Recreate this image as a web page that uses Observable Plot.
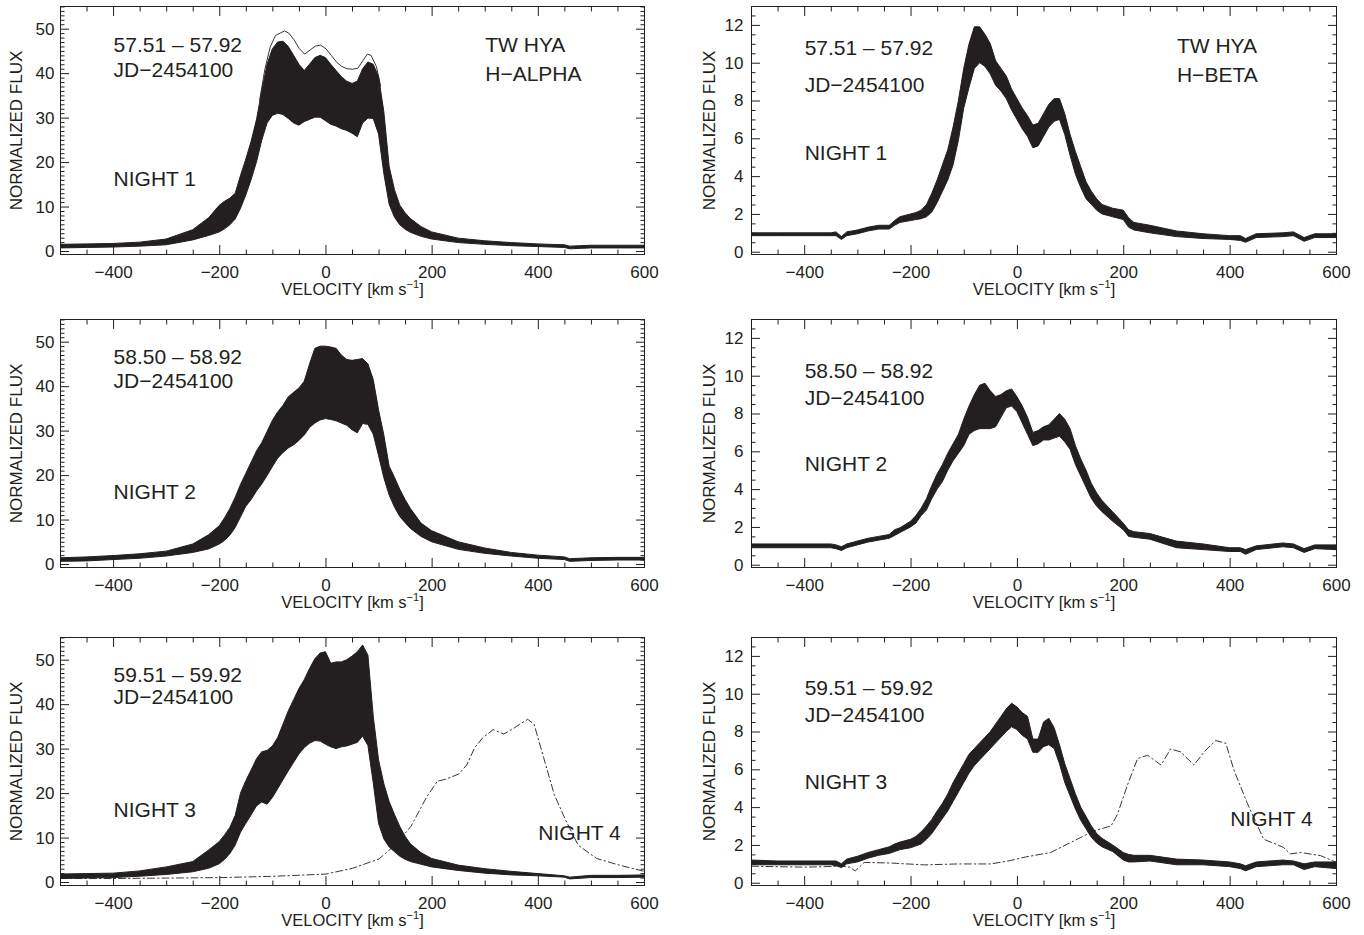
<!DOCTYPE html>
<html><head><meta charset="utf-8">
<script src="https://cdn.jsdelivr.net/npm/d3@7"></script>
<script src="https://cdn.jsdelivr.net/npm/@observablehq/plot@0.6"></script>
<style>
html,body{margin:0;padding:0;background:#fff;overflow:hidden;}
#wrap{position:relative;width:1364px;height:935px;background:#fff;}
.panel{position:absolute;}
</style></head><body><div id="wrap"></div>
<script>
// ---------------- DATA ----------------
// H-alpha velocity grid (km/s)
const velHa = [-500,-450,-400,-350,-300,-250,-220,-200,-190,-180,-170,-160,-150,-140,-130,-120,-110,-100,-90,-80,-70,-60,-50,-40,-30,-20,-10,0,10,20,30,40,50,60,70,80,90,100,110,120,130,140,150,160,180,200,250,300,350,400,450,460,500,550,600];
// Night 1 H-alpha: upper / lower edge of the bundle of spectra
const haN1Top = [1.5,1.6,1.7,2.0,2.7,4.8,7.5,10.3,11.2,11.9,13.0,17,20.7,24.7,29.5,36,42,45.5,47,47.2,46,44,42,40.6,42,43.5,44,43.5,42,40.6,39.2,38.2,37.7,38.2,41,42.5,42,39.2,31.3,19,13.8,10.3,8.6,7.3,5.5,4.3,2.9,2.3,1.9,1.6,1.4,1.1,1.3,1.3,1.3];
const haN1Bot = [0.7,0.8,0.9,1.1,1.4,2.5,3.5,4.3,5.0,5.9,7.2,9.6,12.6,16.1,20,24.9,28.8,30.5,31,30.7,29.8,28.8,28.3,29.1,29.6,30.1,30.1,29.3,28.5,28.1,27.5,27.1,26.5,25.7,28.8,29.9,29.8,26.3,17.4,10.5,7.6,5.9,4.9,4.2,3.3,2.7,1.9,1.5,1.2,1.0,0.8,0.5,0.7,0.7,0.7];
// Night 1 H-alpha: the single highest spectrum standing above the bundle
const haN1OutVel = [-125,-115,-105,-95,-85,-78,-70,-60,-50,-40,-30,-20,-10,0,10,20,30,40,50,60,70,78,85,95,103];
const haN1Out = [34,41,46,48.6,49.2,49.6,49.1,47.6,45.6,44.4,45.3,46.2,46.4,45.6,44.1,42.6,41.6,41.1,41,41.2,43,44.4,44.1,41.6,37.2];
// Night 2 H-alpha
const haN2Top = [1.4,1.6,1.9,2.3,2.9,4.5,6.6,8.6,10.4,12.5,15,17.9,20.4,22.9,25.4,27.3,29.8,32.3,34.2,35.7,37.6,38.6,39.6,41.1,45,48.5,49,49,48.8,48.5,47,46,45.8,46,46.2,45,41.5,34.7,29,22,19.5,16.8,14.5,12.5,9.2,7.5,5.0,3.6,2.6,2.0,1.6,1.2,1.4,1.5,1.5];
const haN2Bot = [0.6,0.7,1.0,1.3,1.8,2.6,3.4,4.5,5.3,6.5,8.2,10.6,13,14.5,16.4,18,19.9,21.9,23.8,25.1,26.1,26.8,27.8,29,30.7,31.7,32.4,32.7,32.5,32.2,31.7,31.2,30.2,29.5,31.6,31.4,29.2,24.4,19.4,15.5,12.8,10.7,9.3,8.0,6.2,5.0,3.3,2.4,1.8,1.3,1.0,0.6,0.8,0.9,0.9];
// Night 3 H-alpha
const haN3Top = [1.8,1.9,2.0,2.5,3.4,4.6,7.2,9.1,10.6,12.3,15,20,22.8,25.2,27.7,29.3,29.6,30.6,32.5,35.5,38.5,41,43.5,45.5,48,50.2,51.5,51.8,49.2,49.5,49.5,50,50.8,51.8,53.3,51,37.3,27.5,22.1,18.1,15.2,12.5,10.3,8.6,6.6,5.3,3.8,3.0,2.4,1.9,1.4,1.1,1.5,1.5,1.6];
const haN3Bot = [0.8,0.9,1.0,1.3,1.7,2.3,3.1,4.1,5.1,6.4,8.3,11.2,13.2,15.1,17.1,18.0,17.5,19.0,21.0,23.0,25,26.9,28.8,30.2,31.2,31.8,31.7,31,30.4,30,30.4,30.6,31,31.4,32.8,30.7,22.3,13.2,9.7,7.9,6.8,5.8,5.1,4.6,4.0,3.4,2.6,2.0,1.6,1.4,1.1,0.7,1.0,1.0,1.1];
// Night 4 H-alpha (dash-dot)
const haN4Vel = [-500,-400,-300,-200,-100,0,50,100,130,160,190,210,225,250,265,280,295,315,335,350,365,380,392,410,430,450,475,510,550,600];
const haN4 = [0.9,0.9,1.0,1.1,1.4,1.9,3.2,5.3,8.4,12.6,19.3,22.8,23.2,24.4,26.4,30.3,32.5,34.4,33.4,34.4,35.6,36.7,35.6,28.1,19.8,14.4,8.4,5.4,4.0,2.5];

// H-beta velocity grid (km/s)
const velHb = [-500,-450,-400,-350,-340,-330,-320,-300,-280,-260,-240,-230,-220,-200,-190,-180,-170,-160,-150,-140,-130,-120,-110,-100,-90,-80,-70,-60,-50,-40,-30,-20,-10,0,10,20,30,40,50,60,70,80,90,100,110,120,130,140,150,160,180,200,210,220,250,300,350,400,420,430,450,500,520,540,560,600];
const hbN1Top = [1.0,1.0,1.0,1.0,1.05,0.8,1.05,1.15,1.3,1.4,1.4,1.65,1.85,2.0,2.07,2.2,2.5,3.1,3.8,4.6,5.4,6.6,8.0,9.7,11.0,11.9,11.9,11.5,11.0,10.1,9.7,9.3,8.6,8.1,7.6,7.2,6.7,6.8,7.3,7.8,8.1,8.1,7.3,6.2,5.3,4.5,3.7,3.2,2.8,2.5,2.3,2.2,1.8,1.55,1.4,1.1,0.95,0.85,0.85,0.7,0.95,1.0,1.05,0.75,0.95,0.95];
const hbN1Bot = [0.85,0.85,0.85,0.85,0.85,0.65,0.85,0.95,1.1,1.2,1.2,1.4,1.55,1.65,1.7,1.75,1.85,2.1,2.6,3.2,3.8,4.6,5.9,7.6,8.7,9.7,10.0,9.8,9.4,8.8,8.5,8.1,7.5,7.0,6.5,6.1,5.5,5.6,6.1,6.6,6.9,7.0,6.2,5.1,4.1,3.4,2.8,2.5,2.2,2.0,1.85,1.7,1.3,1.15,1.0,0.8,0.7,0.65,0.6,0.5,0.75,0.8,0.85,0.55,0.75,0.75];
const hbN2Top = [1.1,1.1,1.1,1.1,1.05,0.95,1.1,1.25,1.4,1.5,1.6,1.85,1.95,2.3,2.6,3.0,3.5,4.2,4.8,5.3,5.9,6.4,6.9,7.7,8.4,9.0,9.5,9.6,9.2,8.9,9.0,9.2,9.3,8.9,8.4,7.8,7.0,7.1,7.3,7.4,7.7,8.0,7.7,7.2,6.3,5.6,5.0,4.3,3.8,3.4,2.8,2.2,1.85,1.75,1.65,1.25,1.1,0.9,0.9,0.8,1.0,1.15,1.1,0.85,1.05,1.05];
const hbN2Bot = [0.9,0.9,0.9,0.9,0.85,0.75,0.9,1.05,1.2,1.3,1.4,1.55,1.7,2.0,2.2,2.6,2.9,3.5,4.0,4.4,5.0,5.5,5.9,6.3,6.9,7.1,7.2,7.2,7.2,7.3,7.8,8.3,8.4,8.1,7.5,6.9,6.3,6.4,6.6,6.6,6.7,6.8,6.5,6.1,5.3,4.7,4.1,3.5,3.1,2.8,2.3,1.85,1.5,1.45,1.35,0.9,0.8,0.7,0.7,0.55,0.8,0.95,0.9,0.65,0.85,0.8];
const hbN3Top = [1.2,1.15,1.15,1.15,1.15,1.0,1.25,1.4,1.6,1.75,1.9,2.05,2.15,2.3,2.45,2.7,3.0,3.35,3.8,4.2,4.7,5.3,5.8,6.3,6.8,7.1,7.4,7.7,8.0,8.4,8.8,9.2,9.5,9.3,9.0,8.8,7.6,7.6,8.5,8.7,8.2,7.3,6.3,5.5,4.7,4.0,3.5,3.0,2.6,2.35,2.0,1.6,1.5,1.45,1.45,1.25,1.2,1.1,1.0,0.9,1.1,1.2,1.15,1.0,1.1,1.1];
const hbN3Bot = [0.95,0.95,0.95,0.95,0.9,0.8,1.0,1.1,1.3,1.45,1.55,1.65,1.75,1.85,1.95,2.05,2.3,2.6,3.0,3.4,3.8,4.3,4.8,5.3,5.8,6.2,6.5,6.8,7.1,7.4,7.7,8.0,8.25,8.1,7.8,7.6,6.9,6.9,7.2,7.3,7.1,6.3,5.3,4.6,3.9,3.3,2.85,2.4,2.1,1.9,1.65,1.2,1.1,1.1,1.15,0.95,0.95,0.85,0.75,0.63,0.85,0.95,0.95,0.7,0.85,0.75];
const hbN4Vel = [-500,-400,-330,-315,-305,-288,-238,-175,-113,-50,-13,12,63,94,144,176,188,207,226,245,270,288,307,332,351,373,392,407,432,463,500,513,532,570,600];
const hbN4 = [0.9,0.85,0.9,0.85,0.65,1.1,1.07,0.97,1.02,1.02,1.2,1.37,1.63,2.07,2.77,3.03,3.64,5.2,6.6,6.77,6.25,7.1,6.95,6.25,6.95,7.55,7.4,6.0,4.25,2.33,1.9,1.55,1.63,1.46,1.1];

// tick labels and texts
const xTickLabels = [-400,-200,0,200,400,600];
const haTickLabels = [0,10,20,30,40,50];
const hbTickLabels = [0,2,4,6,8,10,12];
const dateLabels = ["57.51 \u2013 57.92","58.50 \u2013 58.92","59.51 \u2013 59.92"];
const jdLabel = "JD\u22122454100";
const nightLabels = ["NIGHT 1","NIGHT 2","NIGHT 3"];
const night4Label = "NIGHT 4";
const starLabel = "TW HYA";
const lineLabels = ["H\u2212ALPHA","H\u2212BETA"];
const yTitle = "NORMALIZED FLUX";
const xTitleParts = ["VELOCITY [km s","\u22121","]"];

// ---------------- LAYOUT ----------------
const ink = "#231f20";
const fontFam = '"Liberation Sans", Arial, Helvetica, sans-serif';
const colGeom = [{left:0, ml:60, mr:38, ydx:-44}, {left:682, ml:69, mr:28, ydx:-42}];
const rowTops = [0, 313, 631];
const haDomain = [-0.67, 55.1], hbDomain = [-0.12, 13.0];
const haText = [{date:44.8, jd:39.3, night:14.8}, {date:45.0, jd:39.8, night:14.8}, {date:45.0, jd:40.1, night:14.8}];
const hbText = [{date:10.45, jd:8.5, night:4.9}, {date:9.9, jd:8.5, night:5.0}, {date:9.96, jd:8.55, night:5.0}];
const starText = [{tw:44.8, line:38.4}, {tw:10.55, line:9.0}];

const panels = [
  {col:0,row:0, top:haN1Top, bot:haN1Bot, out:[haN1OutVel, haN1Out]},
  {col:1,row:0, top:hbN1Top, bot:hbN1Bot},
  {col:0,row:1, top:haN2Top, bot:haN2Bot},
  {col:1,row:1, top:hbN2Top, bot:hbN2Bot},
  {col:0,row:2, top:haN3Top, bot:haN3Bot, n4:[haN4Vel, haN4]},
  {col:1,row:2, top:hbN3Top, bot:hbN3Bot, n4:[hbN4Vel, hbN4]}
];

const wrap = document.getElementById("wrap");
const xMinor = d3.range(-450, 600, 50).filter(v => !xTickLabels.includes(v));

panels.forEach(p => {
  const isHa = p.col === 0;
  const g = colGeom[p.col];
  const vel = isHa ? velHa : velHb;
  const band = vel.map((v, i) => ({v, hi: p.top[i], lo: p.bot[i]}));
  const yDomain = isHa ? haDomain : hbDomain;
  const yLab = isHa ? haTickLabels : hbTickLabels;
  const yStep = isHa ? 1 : 0.5;
  const yMinor = d3.range(0, yDomain[1], yStep).filter(y => !yLab.some(m => Math.abs(m - y) < 1e-9));
  const tp = (isHa ? haText : hbText)[p.row];
  const texts = [
    {x:-400, y:tp.date, t:dateLabels[p.row]},
    {x:-400, y:tp.jd, t:jdLabel},
    {x:-400, y:tp.night, t:nightLabels[p.row]}
  ];
  if (p.row === 0) {
    texts.push({x:300, y: starText[p.col].tw, t: starLabel});
    texts.push({x:300, y: starText[p.col].line, t: lineLabels[p.col]});
  }
  if (p.n4) texts.push({x:400, y: isHa ? 9.5 : 3.05, t: night4Label});

  const marks = [
    Plot.areaY(band, {x:"v", y1:"lo", y2:"hi", fill:ink, stroke:ink, strokeWidth:1, clip:true})
  ];
  if (p.out) {
    const od = p.out[0].map((v, i) => ({v, y: p.out[1][i]}));
    marks.push(Plot.lineY(od, {x:"v", y:"y", stroke:ink, strokeWidth:0.9, clip:true}));
  }
  if (p.n4) {
    const nd = p.n4[0].map((v, i) => ({v, y: p.n4[1][i]}));
    marks.push(Plot.lineY(nd, {x:"v", y:"y", stroke:ink, strokeWidth:0.9, strokeDasharray:"7,3,1.5,3", clip:true}));
  }
  marks.push(
    Plot.frame({stroke:ink, strokeWidth:1}),
    // inward major & minor ticks on all four sides
    Plot.axisX({ticks:xTickLabels, anchor:"bottom", tickSize:9, dy:-9, fill:"none", stroke:ink, label:null}),
    Plot.axisX({ticks:xMinor, anchor:"bottom", tickSize:4.5, dy:-4.5, fill:"none", stroke:ink, label:null}),
    Plot.axisX({ticks:xTickLabels, anchor:"top", tickSize:9, dy:9, fill:"none", stroke:ink, label:null}),
    Plot.axisX({ticks:xMinor, anchor:"top", tickSize:4.5, dy:4.5, fill:"none", stroke:ink, label:null}),
    Plot.axisY({ticks:yLab, anchor:"left", tickSize:9, dx:9, fill:"none", stroke:ink, label:null}),
    Plot.axisY({ticks:yMinor, anchor:"left", tickSize:4.5, dx:4.5, fill:"none", stroke:ink, label:null}),
    Plot.axisY({ticks:yLab, anchor:"right", tickSize:9, dx:-9, fill:"none", stroke:ink, label:null}),
    Plot.axisY({ticks:yMinor, anchor:"right", tickSize:4.5, dx:-4.5, fill:"none", stroke:ink, label:null}),
    // tick labels
    Plot.axisX({ticks:xTickLabels, anchor:"bottom", tickSize:0, tickPadding:11, fontSize:17, fill:ink, label:null}),
    Plot.axisY({ticks:yLab, anchor:"left", tickSize:0, tickPadding: isHa ? 6 : 8, fontSize:17, fill:ink, label:null}),
    // axis titles
    Plot.text([xTitleParts.join("")], {frameAnchor:"bottom", dy:40, lineAnchor:"bottom", textAnchor:"middle", fontSize:16.5, fill:ink}),
    Plot.text([yTitle], {frameAnchor:"left", dx:g.ydx, rotate:-90, lineAnchor:"middle", textAnchor:"middle", fontSize:17, fill:ink}),
    // annotations
    Plot.text(texts, {x:"x", y:"y", text:"t", textAnchor:"start", lineAnchor:"bottom", fontSize:21, fill:ink})
  );

  const chart = Plot.plot({
    width: 682, height: 304,
    marginLeft: g.ml, marginRight: g.mr, marginTop: 6, marginBottom: 50,
    x: {domain: [-500, 600]},
    y: {domain: yDomain},
    style: {fontFamily: fontFam, fontSize: "17px", color: ink, background: "transparent", overflow: "visible"},
    marks
  });

  // superscript for the unit
  const ns = "http://www.w3.org/2000/svg";
  chart.querySelectorAll("text").forEach(t => {
    if (t.textContent === xTitleParts.join("")) {
      t.textContent = "";
      const a = document.createElementNS(ns, "tspan"); a.textContent = xTitleParts[0];
      const b = document.createElementNS(ns, "tspan"); b.textContent = xTitleParts[1];
      b.setAttribute("dy", "-7"); b.setAttribute("font-size", "11");
      const c = document.createElementNS(ns, "tspan"); c.textContent = xTitleParts[2];
      c.setAttribute("dy", "7");
      t.appendChild(a); t.appendChild(b); t.appendChild(c);
    }
  });

  const div = document.createElement("div");
  div.className = "panel";
  div.style.left = g.left + "px";
  div.style.top = rowTops[p.row] + "px";
  div.appendChild(chart);
  wrap.appendChild(div);
});
</script></body></html>
